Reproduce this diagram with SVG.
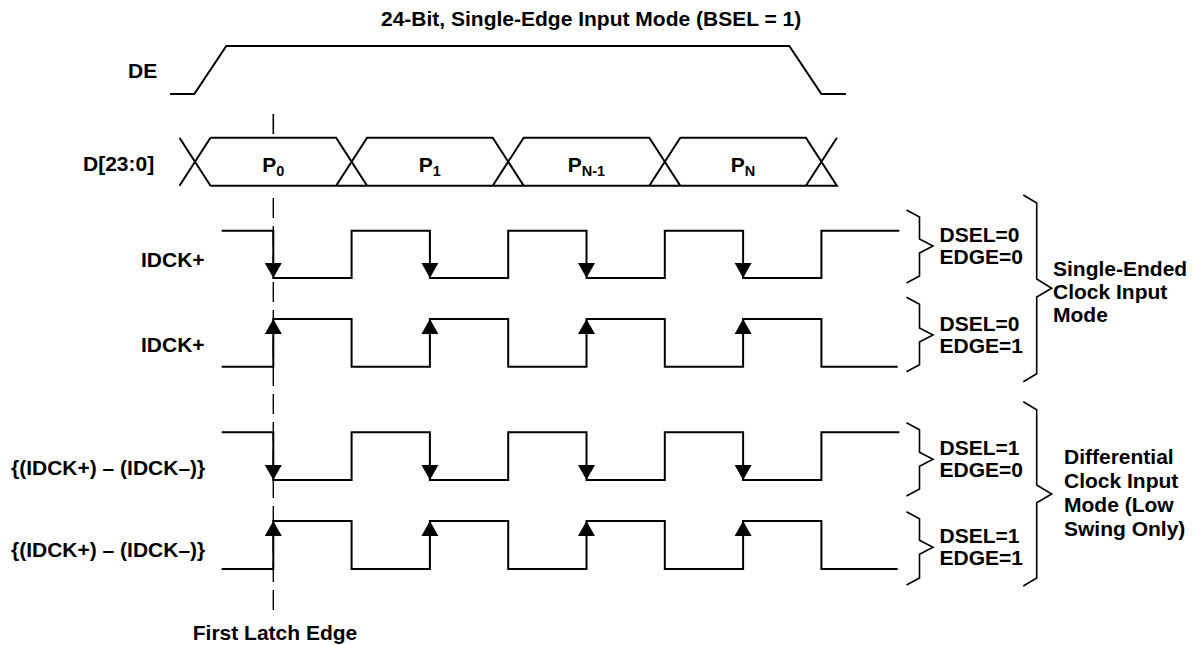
<svg xmlns="http://www.w3.org/2000/svg" width="1202" height="645" viewBox="0 0 1202 645">
<style>
text{font-family:"Liberation Sans",Arial,Helvetica,sans-serif;font-weight:bold;font-size:21px;fill:#000}
.sub{font-size:14.5px}
.w{fill:none;stroke:#000;stroke-width:2;stroke-linejoin:miter}
.br{fill:none;stroke:#000;stroke-width:1.6}
.dash{fill:none;stroke:#000;stroke-width:1.4;stroke-dasharray:20 8}
.ah{fill:#000;stroke:none}
.mid{text-anchor:middle}
</style>
<defs>
<path id="dn" d="M-8.5,-15 L8.5,-15 L0,0 Z"/>
<path id="up" d="M-8.5,15 L8.5,15 L0,0 Z"/>
</defs>
<rect width="1202" height="645" fill="#fff"/>

<g id="title"><text x="381" y="25.5">24-Bit, Single-Edge Input Mode (BSEL = 1)</text></g>

<g id="de">
<text x="128" y="78">DE</text>
<path class="w" d="M170,94 H194.3 L226.3,46 H789.3 L821.4,94 H846"/>
</g>

<g id="data">
<text x="83" y="170.5">D[23:0]</text>
<path class="w" d="M179.5,137.7 L210.5,185.7 M179.5,185.7 L210.5,137.7
M210.5,137.7 H336.1 L367.1,185.7 H210.5
M336.1,185.7 L367.1,137.7 H492.7 L523.7,185.7 H367.1
M492.7,185.7 L523.7,137.7 H649.3 L680.3,185.7 H523.7
M649.3,185.7 L680.3,137.7 H805.9 L836.9,185.7 H680.3
M805.9,185.7 L836.9,137.7"/>
<text class="mid" x="273.3" y="171.5">P<tspan class="sub" dy="4">0</tspan></text>
<text class="mid" x="429.9" y="171.5">P<tspan class="sub" dy="4">1</tspan></text>
<text class="mid" x="586.5" y="171.5">P<tspan class="sub" dy="4">N-1</tspan></text>
<text class="mid" x="743.1" y="171.5">P<tspan class="sub" dy="4">N</tspan></text>
</g>

<g id="latch">
<line class="br" x1="273.3" y1="114" x2="273.3" y2="134"/>
<line class="dash" x1="273.3" y1="198" x2="273.3" y2="610"/>
<text class="mid" x="275" y="640">First Latch Edge</text>
</g>

<g id="clk1">
<text x="141" y="267">IDCK+</text>
<path class="w" d="M221.7,230.7 H273.3 V278 H351.6 V230.7 H429.9 V278 H508.2 V230.7 H586.5 V278 H664.8 V230.7 H743.1 V278 H821.4 V230.7 H899.3"/>
<use href="#dn" x="273.3" y="278" class="ah"/><use href="#dn" x="429.9" y="278" class="ah"/><use href="#dn" x="586.5" y="278" class="ah"/><use href="#dn" x="743.1" y="278" class="ah"/>
</g>

<g id="clk2">
<text x="141" y="351.5">IDCK+</text>
<path class="w" d="M221.7,366.7 H273.3 V319 H351.6 V366.7 H429.9 V319 H508.2 V366.7 H586.5 V319 H664.8 V366.7 H743.1 V319 H821.4 V366.7 H897.7"/>
<use href="#up" x="273.3" y="319" class="ah"/><use href="#up" x="429.9" y="319" class="ah"/><use href="#up" x="586.5" y="319" class="ah"/><use href="#up" x="743.1" y="319" class="ah"/>
</g>

<g id="clk3">
<text x="11" y="475">{(IDCK+) – (IDCK–)}</text>
<path class="w" d="M221.7,432.3 H273.3 V480 H351.6 V432.3 H429.9 V480 H508.2 V432.3 H586.5 V480 H664.8 V432.3 H743.1 V480 H821.4 V432.3 H899.3"/>
<use href="#dn" x="273.3" y="480" class="ah"/><use href="#dn" x="429.9" y="480" class="ah"/><use href="#dn" x="586.5" y="480" class="ah"/><use href="#dn" x="743.1" y="480" class="ah"/>
</g>

<g id="clk4">
<text x="11" y="556.5">{(IDCK+) – (IDCK–)}</text>
<path class="w" d="M221.7,569 H273.3 V521 H351.6 V569 H429.9 V521 H508.2 V569 H586.5 V521 H664.8 V569 H743.1 V521 H821.4 V569 H897.7"/>
<use href="#up" x="273.3" y="521" class="ah"/><use href="#up" x="429.9" y="521" class="ah"/><use href="#up" x="586.5" y="521" class="ah"/><use href="#up" x="743.1" y="521" class="ah"/>
</g>

<g id="sel1">
<path class="br" d="M906.5,210 L919.5,217 V239 L933,246 L919.5,253 V276 L906.5,283"/>
<text x="939.5" y="242">DSEL=0</text><text x="939.5" y="264">EDGE=0</text>
</g>
<g id="sel2">
<path class="br" d="M906.5,297.3 L919.5,304.3 V328 L933,335 L919.5,342 V364.7 L906.5,371.7"/>
<text x="939.5" y="331">DSEL=0</text><text x="939.5" y="353">EDGE=1</text>
</g>
<g id="sel3">
<path class="br" d="M906.5,422.7 L919.5,429.7 V452.3 L933,459.3 L919.5,466.3 V489 L906.5,496"/>
<text x="939.5" y="455">DSEL=1</text><text x="939.5" y="477">EDGE=0</text>
</g>
<g id="sel4">
<path class="br" d="M906.5,511.7 L919.5,518.7 V540.3 L933,547.3 L919.5,554.3 V578 L906.5,585"/>
<text x="939.5" y="543">DSEL=1</text><text x="939.5" y="565">EDGE=1</text>
</g>

<g id="mode1">
<path class="br" d="M1023.3,195 L1036.7,203 V279 L1051.7,288.3 L1036.7,297 V373.7 L1023.3,381.7"/>
<text x="1053" y="276">Single-Ended</text><text x="1053" y="299">Clock Input</text><text x="1053" y="322">Mode</text>
</g>
<g id="mode2">
<path class="br" d="M1023.3,401.7 L1036.7,409.7 V485 L1051.7,494 L1036.7,502.7 V578 L1023.3,586"/>
<text x="1064" y="464">Differential</text><text x="1064" y="488">Clock Input</text><text x="1064" y="512">Mode (Low</text><text x="1064" y="536">Swing Only)</text>
</g>
</svg>
